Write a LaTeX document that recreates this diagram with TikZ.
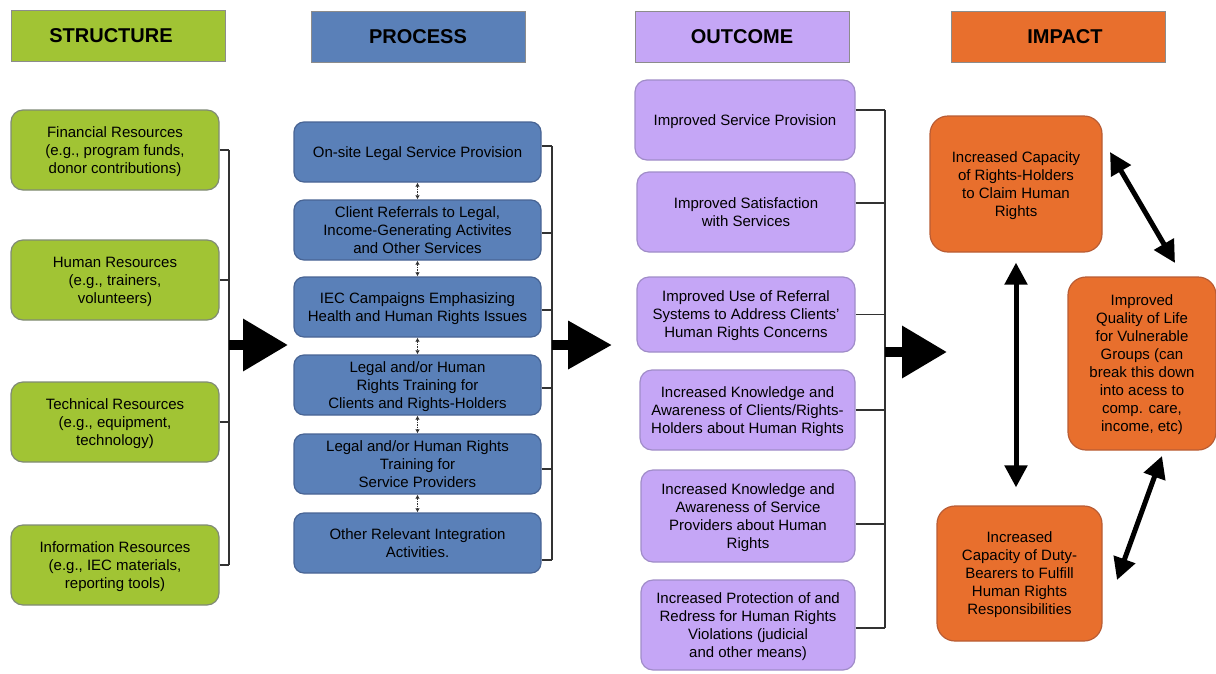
\documentclass[tikz,border=0pt]{standalone}
\usepackage{fontspec}
\setmainfont{Liberation Sans}
\usetikzlibrary{arrows.meta,calc}
\definecolor{gr}{RGB}{161,196,52}
\definecolor{bl}{RGB}{90,128,184}
\definecolor{lv}{RGB}{197,166,246}
\definecolor{orng}{RGB}{232,111,45}
\definecolor{hdrline}{RGB}{140,140,140}
\definecolor{sline}{RGB}{128,138,118}
\definecolor{pline}{RGB}{72,100,148}
\definecolor{oline}{RGB}{160,140,200}
\definecolor{iline}{RGB}{185,92,52}
\definecolor{brkc}{RGB}{50,50,50}
\begin{document}
\begin{tikzpicture}[x=1pt,y=-1pt,
  txt/.style={font=\fontsize{15}{18}\selectfont, align=center, inner sep=2pt, text=black, text depth=0pt},
  hdr/.style={draw=hdrline, line width=1pt, minimum width=214pt, minimum height=51pt, inner sep=0pt, font=\fontsize{20}{24}\selectfont\bfseries},
  sbox/.style={txt, rounded corners=12pt, draw=sline, fill=gr, line width=1.2pt, minimum width=208pt, minimum height=80pt},
  pbox/.style={txt, rounded corners=10pt, draw=pline, fill=bl, line width=1.2pt, minimum width=247pt, minimum height=60pt},
  obox/.style={txt, rounded corners=12pt, draw=oline, fill=lv, line width=1.2pt},
  ibox/.style={txt, rounded corners=18pt, draw=iline, fill=orng, line width=1.2pt},
  brk/.style={draw=brkc, line width=1.3pt},
  smallarr/.style={draw=brkc, line width=1.1pt, dash pattern=on 1.5pt off 1pt, {Latex[length=4pt,width=4.5pt]}-{Latex[length=4pt,width=4.5pt]}},
  bigarr/.style={draw=black, line width=10pt, -{Triangle[length=45pt,width=50pt]}},
  dbl/.style={draw=black, line width=5pt, {Triangle[length=22pt,width=22pt]}-{Triangle[length=22pt,width=22pt]}}
]
\useasboundingbox (0,0) rectangle (1216,673);

% headers
\node[hdr, fill=gr] (hS) at (118,35.5) {\hspace*{-14pt}STRUCTURE};
\node[hdr, fill=bl] (hP) at (418,36.5) {PROCESS};
\node[hdr, fill=lv] (hO) at (742,36.5) {OUTCOME};
\node[hdr, fill=orng] (hI) at (1058,36.5) {\hspace*{14pt}IMPACT};

% structure
\node[sbox] (s1) at (115,150) {Financial Resources\\(e.g., program funds,\\donor contributions)};
\node[sbox] (s2) at (115,280) {Human Resources\\(e.g., trainers,\\volunteers)};
\node[sbox] (s3) at (115,422) {Technical Resources\\(e.g., equipment,\\technology)};
\node[sbox] (s4) at (115,565) {Information Resources\\(e.g., IEC materials,\\reporting tools)};

% process
\node[pbox] (p1) at (417.5,152) {On-site Legal Service Provision};
\node[pbox] (p2) at (417.5,230) {Client Referrals to Legal,\\Income-Generating Activites\\and Other Services};
\node[pbox] (p3) at (417.5,307) {IEC Campaigns Emphasizing\\Health and Human Rights Issues};
\node[pbox] (p4) at (417.5,385) {Legal and/or Human\\Rights Training for\\Clients and Rights-Holders};
\node[pbox] (p5) at (417.5,464) {Legal and/or Human Rights\\Training for\\Service Providers};
\node[pbox] (p6) at (417.5,543) {Other Relevant Integration\\Activities.};

% outcome
\node[obox, minimum width=220pt, minimum height=80pt] (o1) at (745,120) {Improved Service Provision};
\node[obox, minimum width=218pt, minimum height=80pt] (o2) at (746,212) {Improved Satisfaction\\with Services};
\node[obox, minimum width=218pt, minimum height=75pt] (o3) at (746,314.5) {Improved Use of Referral\\Systems to Address Clients’\\Human Rights Concerns};
\node[obox, minimum width=215pt, minimum height=80pt] (o4) at (747.5,410) {Increased Knowledge and\\Awareness of Clients/Rights-\\Holders about Human Rights};
\node[obox, minimum width=214pt, minimum height=92pt] (o5) at (748,516) {Increased Knowledge and\\Awareness of Service\\Providers about Human\\Rights};
\node[obox, minimum width=214pt, minimum height=90pt] (o6) at (748,625) {Increased Protection of and\\Redress for Human Rights\\Violations (judicial\\and other means)};

% impact
\node[ibox, minimum width=172pt, minimum height=136pt] (ic1) at (1016,184) {Increased Capacity\\of Rights-Holders\\to Claim Human\\Rights};
\node[ibox, minimum width=148pt, minimum height=173pt] (q) at (1142,363.5) {Improved\\Quality of Life\\for Vulnerable\\Groups (can\\break this down\\into acess to\\comp. care,\\income, etc)};
\node[ibox, minimum width=165pt, minimum height=135pt] (ic2) at (1019.5,573.5) {Increased\\Capacity of Duty-\\Bearers to Fulfill\\Human Rights\\Responsibilities};

% bracket x positions
\coordinate (bS) at (229,0);
\coordinate (bP) at (552,0);
\coordinate (bO) at (885,0);

% structure bracket
\foreach \n in {s1,s2,s3,s4} \draw[brk] (\n.east) -- (\n.east -| bS);
\draw[brk] (s1.east -| bS) -- (s4.east -| bS);

% process bracket
\coordinate (tp1) at ($(p1.east)+(0,-6)$);
\coordinate (tp2) at ($(p2.east)+(0,3)$);
\coordinate (tp3) at ($(p3.east)+(0,3)$);
\coordinate (tp4) at ($(p4.east)+(0,3)$);
\coordinate (tp5) at ($(p5.east)+(0,5)$);
\coordinate (tp6) at ($(p6.east)+(0,17)$);
\foreach \n in {tp1,tp2,tp3,tp4,tp5,tp6} \draw[brk] (\n) -- (\n -| bP);
\draw[brk] (tp1 -| bP) -- (tp6 -| bP);

% outcome bracket
\coordinate (to1) at ($(o1.east)+(0,-10)$);
\coordinate (to2) at ($(o2.east)+(0,-9)$);
\coordinate (to3) at (o3.east);
\coordinate (to4) at (o4.east);
\coordinate (to5) at ($(o5.east)+(0,8)$);
\coordinate (to6) at ($(o6.east)+(0,3)$);
\foreach \n in {to1,to2,to3,to4,to5,to6} \draw[brk] (\n) -- (\n -| bO);
\draw[brk] (to1 -| bO) -- (to6 -| bO);

% small arrows between process boxes
\draw[smallarr] (p1.south) -- (p2.north);
\draw[smallarr] (p2.south) -- (p3.north);
\draw[smallarr] (p3.south) -- (p4.north);
\draw[smallarr] (p4.south) -- (p5.north);
\draw[smallarr] (p5.south) -- (p6.north);

% big arrows
\coordinate (a1s) at (229,345); \coordinate (a1e) at (288,345);
\coordinate (a2s) at (552,345); \coordinate (a2e) at (612,345);
\coordinate (a3s) at (885,352); \coordinate (a3e) at (947,352);
\draw[bigarr] (a1s) -- (a1e);
\draw[bigarr, -{Triangle[length=44pt,width=46pt]}] (a2s) -- (a2e);
\draw[bigarr] (a3s) -- (a3e);

% impact arrows
\draw[dbl, shorten <=10pt, shorten >=18pt] (ic1.south) -- (ic1.south |- ic2.north);
\coordinate (d1a) at (1110,152); \coordinate (d1b) at (1175,263);
\coordinate (d2a) at (1162,456); \coordinate (d2b) at (1117,580);
\draw[dbl] (d1a) -- (d1b);
\draw[dbl] (d2a) -- (d2b);
\end{tikzpicture}
\end{document}
